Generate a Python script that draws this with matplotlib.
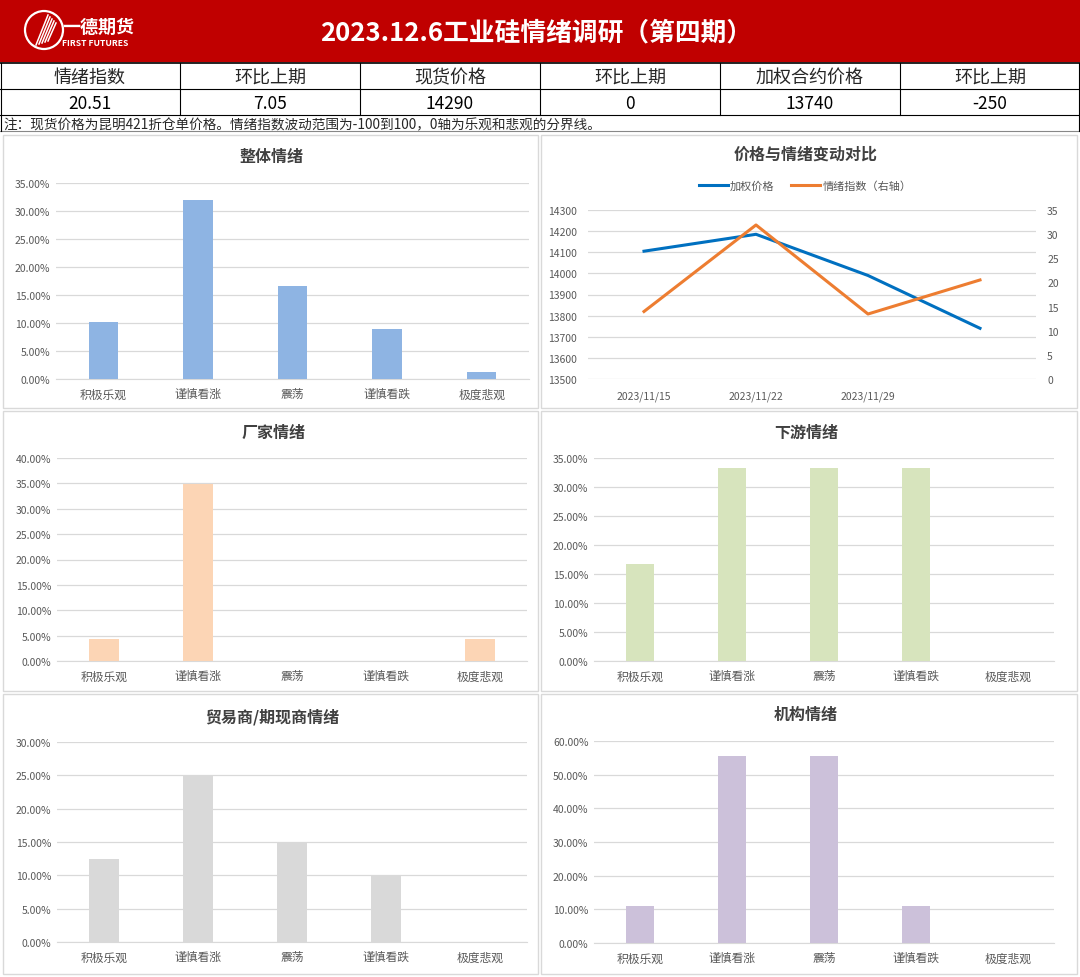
import numpy as np
import matplotlib
matplotlib.use("Agg")
import matplotlib.pyplot as plt
from matplotlib.patches import Rectangle, Circle
from matplotlib.ticker import FuncFormatter, MultipleLocator

plt.rcParams['font.family'] = ['Noto Sans CJK SC', 'DejaVu Sans']

# ---- data ----
categories = ['积极乐观', '谨慎看涨', '震荡', '谨慎看跌', '极度悲观']
overall = [10.1, 32.0, 16.6, 8.95, 1.25]
factory = [4.35, 34.78, 0, 0, 4.35]
downstream = [16.67, 33.33, 33.33, 33.33, 0]
traders = [12.5, 25.0, 15.0, 10.0, 0]
institution = [11.11, 55.56, 55.56, 11.11, 0]

dates = ['2023/11/15', '2023/11/22', '2023/11/29', '2023/12/6']
weighted_price = [14105, 14185, 13990, 13740]
sentiment_index = [13.98, 31.9, 13.46, 20.51]

table_headers = ['情绪指数', '环比上期', '现货价格', '环比上期', '加权合约价格', '环比上期']
table_values = ['20.51', '7.05', '14290', '0', '13740', '-250']
note = '注：现货价格为昆明421折仓单价格。情绪指数波动范围为-100到100，0轴为乐观和悲观的分界线。'
title = '2023.12.6工业硅情绪调研（第四期）'

W, H = 1080, 978
fig = plt.figure(figsize=(W / 100, H / 100), dpi=100)
fig.patch.set_facecolor('white')

bg = fig.add_axes([0, 0, 1, 1], zorder=0)
bg.set_xlim(0, W)
bg.set_ylim(H, 0)
bg.axis('off')


def px_rect(x0, y0, x1, y1):
    return [x0 / W, 1 - y1 / H, (x1 - x0) / W, (y1 - y0) / H]


# header band
bg.add_patch(Rectangle((0, 0), W, 62, color='#c00000'))
bg.add_patch(Circle((44, 31), 19, fill=False, ec='white', lw=1.6))
for k in range(5):
    bg.plot([36 + k * 3, 48 + k * 2], [46 - k, 16 + k * 2], color='white', lw=1.1)
bg.text(62, 27, '一德期货', color='white', fontsize=13, fontweight='bold', va='center')
bg.text(62, 44, 'FIRST FUTURES', color='white', fontsize=6.2, fontweight='bold', va='center')
bg.text(536, 33, title, color='white', fontsize=18.5, fontweight='bold', ha='center', va='center')

# table
bg.plot([0, W], [64, 64], color='black', lw=1.2)
bg.plot([0, W], [90, 90], color='black', lw=0.8)
bg.plot([0, W], [116, 116], color='black', lw=0.8)
bg.plot([0, W], [132, 132], color='#888888', lw=0.8)
bg.plot([1, 1], [64, 132], color='black', lw=0.8)
bg.plot([W - 1, W - 1], [64, 132], color='black', lw=0.8)
for i in range(1, 6):
    bg.plot([i * 180, i * 180], [64, 116], color='black', lw=0.8)
for i, (h, v) in enumerate(zip(table_headers, table_values)):
    cx = i * 180 + 90
    bg.text(cx, 78, h, fontsize=13, ha='center', va='center', color='#262626')
    bg.text(cx, 104, v, fontsize=12.5, ha='center', va='center', color='black')
bg.text(3, 125, note, fontsize=9.8, ha='left', va='center', color='#262626')

# chart panels
panels = [(3, 136, 538, 409), (541, 136, 1077, 409),
          (3, 412, 538, 692), (541, 412, 1077, 692),
          (3, 695, 538, 975), (541, 695, 1077, 975)]
for x0, y0, x1, y1 in panels:
    bg.add_patch(Rectangle((x0, y0), x1 - x0, y1 - y0, fc='white', ec='#d9d9d9', lw=1))

grid_c = '#d9d9d9'
tick_c = '#595959'


def bar_panel(rect, title_xy, name, values, color, ymax, step):
    ax = fig.add_axes(px_rect(*rect), zorder=2)
    ax.set_facecolor('none')
    x = np.arange(len(categories))
    ax.bar(x, values, width=0.31, color=color, zorder=3)
    ax.set_xlim(-0.5, len(categories) - 0.5)
    ax.set_ylim(0, ymax)
    ax.yaxis.set_major_locator(MultipleLocator(step))
    ax.yaxis.set_major_formatter(FuncFormatter(lambda v, p: f'{v:.2f}%'))
    ax.grid(axis='y', color=grid_c, lw=0.9, zorder=0)
    for s in ['top', 'right', 'left']:
        ax.spines[s].set_visible(False)
    ax.spines['bottom'].set_color(grid_c)
    ax.set_xticks(x)
    ax.set_xticklabels(categories)
    ax.tick_params(axis='y', length=0, labelsize=7.5, labelcolor=tick_c, pad=4)
    ax.tick_params(axis='x', length=0, labelsize=8.5, labelcolor=tick_c, pad=6)
    bg.text(title_xy[0], title_xy[1], name, fontsize=11.5, fontweight='bold',
            ha='center', va='center', color='#404040')
    return ax


bar_panel((56, 184, 529, 380), (272, 157), '整体情绪', overall, '#8eb4e3', 35, 5)
bar_panel((57, 459, 527, 662), (273, 433), '厂家情绪', factory, '#fcd5b5', 40, 5)
bar_panel((594, 459, 1054, 662), (806, 433), '下游情绪', downstream, '#d7e4bd', 35, 5)
bar_panel((57, 743, 527, 943), (272, 717), '贸易商/期现商情绪', traders, '#d9d9d9', 30, 5)
bar_panel((594, 742, 1054, 944), (806, 715), '机构情绪', institution, '#ccc1da', 60, 10)

# price vs sentiment line chart
ax = fig.add_axes(px_rect(588, 211, 1036, 380), zorder=2)
ax.set_facecolor('none')
xs = np.arange(len(dates))
l1, = ax.plot(xs, weighted_price, color='#0070c0', lw=2.2, label='加权价格', zorder=3)
ax.set_ylim(13500, 14300)
ax.yaxis.set_major_locator(MultipleLocator(100))
ax.set_xlim(-0.5, len(dates) - 0.5)
ax.set_xticks(xs[:3])
ax.set_xticklabels(dates[:3])
ax.grid(axis='y', color=grid_c, lw=0.9, zorder=0)
for s in ['top', 'right', 'left', 'bottom']:
    ax.spines[s].set_visible(False)
ax.tick_params(axis='y', length=0, labelsize=7.5, labelcolor=tick_c, pad=8)
ax.tick_params(axis='x', length=0, labelsize=7.5, labelcolor=tick_c, pad=8)
ax2 = ax.twinx()
l2, = ax2.plot(xs, sentiment_index, color='#ed7d31', lw=2.2, label='情绪指数（右轴）', zorder=3)
ax2.set_ylim(0, 35)
ax2.yaxis.set_major_locator(MultipleLocator(5))
for s in ['top', 'right', 'left', 'bottom']:
    ax2.spines[s].set_visible(False)
ax2.tick_params(axis='y', length=0, labelsize=7.5, labelcolor=tick_c, pad=8)
fig.legend(handles=[l1, l2], loc='center', bbox_to_anchor=(805 / W, 1 - 187 / H), ncol=2,
           frameon=False, fontsize=8, handlelength=2.6, columnspacing=1.5,
           labelcolor=tick_c, handletextpad=0.2)
bg.text(806, 155, '价格与情绪变动对比', fontsize=11.5, fontweight='bold',
        ha='center', va='center', color='#404040')

fig.savefig('out.png', dpi=100, facecolor='white')
